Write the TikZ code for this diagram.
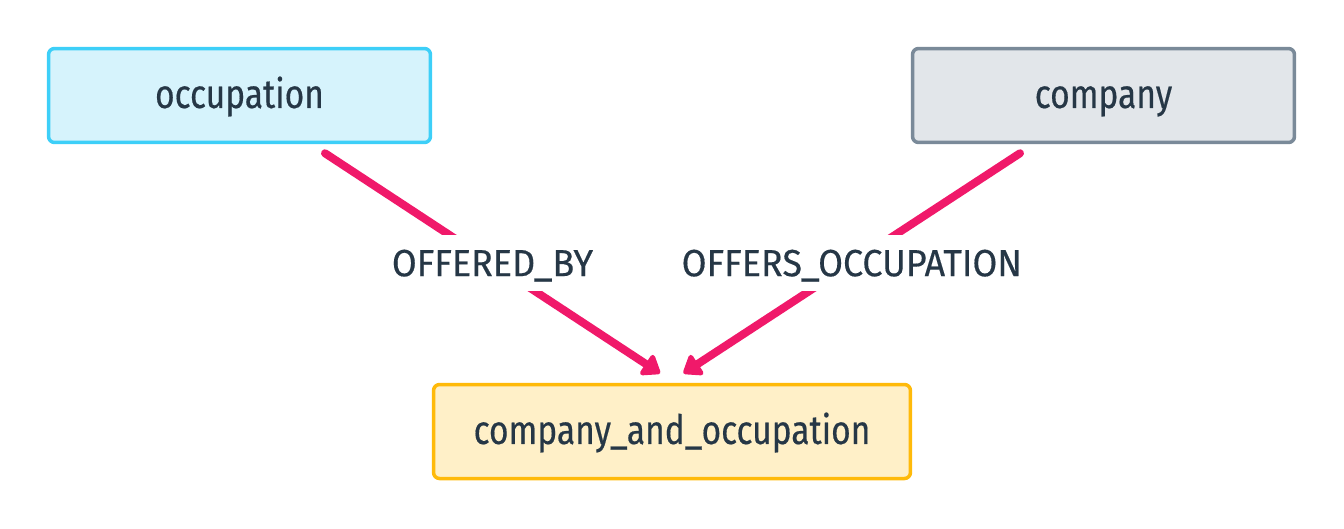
\documentclass[tikz,border=0pt]{standalone}
\usepackage{fontspec}
\setmainfont{Fira Sans}
\newfontfamily\boxfont[FakeStretch=0.83,FakeBold=0.4]{Fira Sans}
\newfontfamily\labelfont[FakeStretch=0.95,FakeBold=0.4]{Fira Sans}
\usetikzlibrary{calc,arrows.meta}
\definecolor{txtcol}{HTML}{263746}
\definecolor{edgecol}{HTML}{F0196A}
\definecolor{occfill}{HTML}{D6F3FC}
\definecolor{occline}{HTML}{3DCFF8}
\definecolor{compfill}{HTML}{E2E6EA}
\definecolor{compline}{HTML}{7A8A99}
\definecolor{cofill}{HTML}{FFF0C8}
\definecolor{coline}{HTML}{FFBA0A}
\tikzset{
  entity/.style={draw,rounded corners=0.12cm,line width=0.07cm,minimum width=7.64cm,
                 minimum height=1.88cm,text=txtcol,text height=16pt,text depth=1.8pt,
                 font=\boxfont\fontsize{23}{27}\selectfont},
  relation/.style={draw=edgecol,line width=0.16cm,line cap=round,
                   -{Triangle[length=0.38cm,width=0.54cm,round]}},
  rellabel/.style={fill=white,text=txtcol,inner xsep=2pt,inner ysep=0.29cm,
                   text height=15pt,text depth=0.3pt,
                   font=\labelfont\fontsize{21.5}{25}\selectfont}
}
\begin{document}
\begin{tikzpicture}[x=0.02cm,y=-0.02cm]
  \useasboundingbox (0,0) rectangle (1344,528);
  \node[entity,fill=occfill,draw=occline] (occ) at (239.5,95.5) {occupation};
  \node[entity,fill=compfill,draw=compline] (comp) at (1103.5,95.5) {company};
  \node[entity,fill=cofill,draw=coline,minimum width=9.54cm] (cao) at (672,431.5) {company\_and\_occupation};
  \draw[relation] ($(occ.south)+(85.5,9)$) -- node[rellabel] {OFFERED\_BY} ($(cao.north)+(-12,-9.5)$);
  \draw[relation] ($(comp.south)+(-83.5,9)$) -- node[rellabel] {OFFERS\_OCCUPATION} ($(cao.north)+(11.5,-9.5)$);
\end{tikzpicture}
\end{document}
